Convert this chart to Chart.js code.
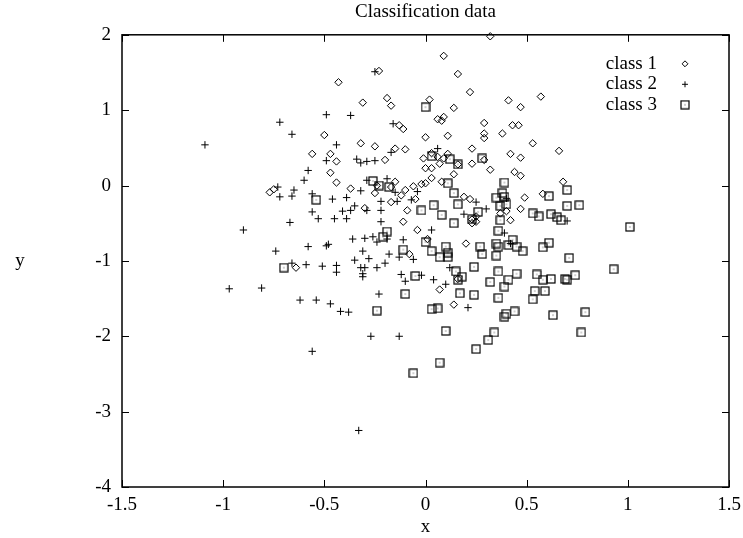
<!DOCTYPE html>
<html>
<head>
<meta charset="utf-8">
<script src="https://cdn.jsdelivr.net/npm/chart.js@4.4.1/dist/chart.umd.min.js"></script>
<style>
  html, body { margin: 0; padding: 0; background: #fff; }
  canvas { display: block; }
</style>
</head>
<body>
<canvas id="chart" width="743" height="538"></canvas>
<script>
// values, [x, y]
const class1 = [
  [-0.31,1.10],[-0.17,1.06],[-0.13,0.80],[-0.11,0.75],[0.00,0.64],[-0.50,0.67],[-0.32,0.56],[-0.25,0.52],
  [-0.15,0.49],[-0.10,0.48],[-0.56,0.42],[-0.47,0.42],[-0.44,0.32],[-0.20,0.34],[-0.01,0.36],[-0.47,0.17],
  [0.00,0.23],[-0.44,0.04],[-0.24,0.00],[-0.17,-0.02],[-0.15,0.05],[-0.10,-0.06],[-0.06,-0.01],[-0.02,0.02],
  [-0.37,-0.04],[-0.12,-0.13],[-0.25,-0.10],[-0.77,-0.09],[-0.75,-0.05],[-0.17,-0.22],[-0.05,-0.18],[-0.30,-0.30],
  [-0.09,-0.33],[-0.11,-0.48],[-0.04,-0.59],[0.01,-0.71],[-0.08,-0.91],[-0.64,-1.09],[-0.23,1.52],[-0.43,1.37],
  [-0.19,1.16],[0.32,1.98],[0.09,1.72],[0.16,1.48],[0.22,1.24],[0.02,1.14],[0.41,1.13],[0.47,1.04],
  [0.14,1.03],[0.06,0.88],[0.08,0.86],[0.09,0.91],[0.29,0.83],[0.43,0.80],[0.46,0.80],[0.29,0.69],
  [0.29,0.63],[0.38,0.69],[0.11,0.66],[0.23,0.49],[0.42,0.42],[0.47,0.37],[0.03,0.43],[0.06,0.38],
  [0.09,0.36],[0.11,0.42],[0.16,0.28],[0.23,0.29],[0.29,0.34],[0.32,0.21],[0.44,0.18],[0.47,0.13],
  [0.03,0.23],[0.07,0.29],[0.14,0.15],[0.03,0.10],[0.08,0.05],[0.57,1.18],[0.53,0.56],[0.66,0.46],
  [0.68,0.05],[0.58,-0.11],[0.19,-0.15],[0.22,-0.18],[0.25,-0.41],[0.23,-0.45],[0.23,-0.50],[0.25,-0.48],
  [0.49,-0.16],[0.37,-0.37],[0.40,-0.34],[0.47,-0.31],[0.42,-0.46],[0.20,-0.77],[0.16,-1.24],[0.07,-1.38],
  [0.14,-1.58],[0.00,0.03]
];
const class2 = [
  [-1.09,0.54],[-0.49,0.94],[-0.37,0.93],[-0.72,0.84],[-0.16,0.82],[-0.66,0.68],[-0.44,0.54],[-0.17,0.44],
  [-0.49,0.33],[-0.34,0.35],[-0.32,0.30],[-0.29,0.32],[-0.25,0.33],[-0.58,0.20],[-0.60,0.07],[-0.29,0.07],
  [-0.19,0.09],[-0.73,-0.02],[-0.32,-0.07],[-0.15,-0.09],[-0.65,-0.06],[-0.72,-0.15],[-0.66,-0.14],[-0.56,-0.11],
  [-0.46,-0.18],[-0.39,-0.16],[-0.14,-0.21],[-0.22,-0.21],[-0.07,-0.19],[-0.04,-0.08],[-0.35,-0.27],[-0.29,-0.33],
  [-0.22,-0.33],[-0.41,-0.34],[-0.37,-0.33],[-0.56,-0.35],[-0.53,-0.44],[-0.45,-0.44],[-0.39,-0.44],[-0.22,-0.48],
  [-0.67,-0.49],[-0.90,-0.59],[-0.19,-0.71],[-0.36,-0.71],[-0.30,-0.70],[-0.26,-0.68],[-0.24,-0.75],[-0.11,-0.72],
  [-0.58,-0.81],[-0.49,-0.80],[-0.48,-0.78],[-0.74,-0.87],[-0.31,-0.87],[-0.28,-0.97],[-0.35,-0.99],[-0.18,-0.91],
  [-0.13,-0.95],[-0.06,-0.98],[-0.66,-1.03],[-0.59,-1.05],[-0.51,-1.07],[-0.44,-1.06],[-0.44,-1.15],[-0.32,-1.09],
  [-0.30,-1.09],[-0.31,-1.17],[-0.31,-1.21],[-0.24,-1.09],[-0.20,-1.03],[-0.12,-1.18],[-0.02,-1.19],[-0.10,-1.27],
  [-0.81,-1.36],[-0.23,-1.44],[-0.62,-1.52],[-0.54,-1.52],[-0.47,-1.57],[-0.42,-1.67],[-0.38,-1.68],[-0.27,-2.00],
  [-0.13,-2.00],[-0.56,-2.20],[-0.97,-1.37],[-0.33,-3.25],[-0.25,1.51],[0.06,0.49],[0.70,-0.47],[0.25,-0.22],
  [0.19,-0.38],[0.30,-0.31],[0.40,-0.17],[0.39,-0.63],[0.42,-0.77],[0.12,-1.09],[0.10,-1.31],[0.21,-1.62],
  [0.04,-1.25],[0.03,-0.59]
];
const class3 = [
  [0.00,1.04],[-0.26,0.06],[-0.23,0.00],[-0.18,-0.02],[-0.54,-0.19],[-0.02,-0.33],[-0.19,-0.61],[-0.21,-0.68],
  [0.00,-0.75],[-0.11,-0.85],[-0.70,-1.09],[-0.05,-1.20],[-0.10,-1.44],[-0.24,-1.66],[0.31,-2.05],[0.25,-2.17],
  [0.07,-2.35],[-0.06,-2.49],[0.03,0.39],[0.12,0.35],[0.16,0.28],[0.28,0.36],[0.11,0.03],[0.39,0.04],
  [0.70,-0.06],[0.61,-0.14],[0.70,-0.27],[0.76,-0.26],[0.53,-0.37],[0.56,-0.41],[0.62,-0.38],[0.65,-0.42],
  [0.67,-0.46],[1.01,-0.55],[0.61,-0.76],[0.58,-0.82],[0.71,-0.96],[0.93,-1.11],[0.55,-1.18],[0.58,-1.25],
  [0.62,-1.24],[0.69,-1.24],[0.70,-1.25],[0.74,-1.19],[0.54,-1.40],[0.59,-1.40],[0.53,-1.51],[0.63,-1.72],
  [0.79,-1.68],[0.77,-1.95],[0.14,-0.10],[0.16,-0.25],[0.23,-0.45],[0.26,-0.35],[0.14,-0.50],[0.38,-0.10],
  [0.39,-0.15],[0.35,-0.16],[0.37,-0.27],[0.40,-0.25],[0.37,-0.46],[0.36,-0.60],[0.35,-0.77],[0.36,-0.81],
  [0.43,-0.72],[0.41,-0.79],[0.45,-0.81],[0.48,-0.87],[0.27,-0.81],[0.28,-0.91],[0.35,-0.93],[0.10,-0.81],
  [0.11,-0.89],[0.11,-0.95],[0.07,-0.95],[0.03,-0.87],[0.24,-1.08],[0.15,-1.14],[0.18,-1.21],[0.16,-1.25],
  [0.36,-1.14],[0.45,-1.17],[0.41,-1.25],[0.32,-1.28],[0.39,-1.34],[0.17,-1.43],[0.24,-1.45],[0.36,-1.49],
  [0.44,-1.67],[0.40,-1.70],[0.39,-1.74],[0.10,-1.93],[0.34,-1.95],[0.03,-1.64],[0.06,-1.63],[0.04,-0.26],
  [0.08,-0.39]
];
const classNames = ['class 1', 'class 2', 'class 3'];
const xTicks = [-1.5, -1, -0.5, 0, 0.5, 1, 1.5];
const xTickLabels = ['-1.5', '-1', '-0.5', '0', '0.5', '1', '1.5'];
const yTicks = [-4, -3, -2, -1, 0, 1, 2];
const yTickLabels = ['-4', '-3', '-2', '-1', '0', '1', '2'];
const titleText = 'Classification data';
const xLabel = 'x';
const yLabel = 'y';

const serif = "'Liberation Serif', 'DejaVu Serif', serif";
Chart.defaults.font.family = serif;
Chart.defaults.font.size = 19;
Chart.defaults.color = '#000';

function toPoints(arr) {
  return arr.map(p => ({ x: p[0], y: p[1] }));
}

// gnuplot box symbol: open square with a dot in the middle
function boxSymbol(side) {
  const c = document.createElement('canvas');
  c.width = side + 2;
  c.height = side + 2;
  const g = c.getContext('2d');
  g.strokeStyle = '#000';
  g.lineWidth = 1.2;
  g.strokeRect(1, 1, side, side);
  g.fillStyle = '#444';
  const m = Math.floor((side + 2) / 2);
  g.fillRect(m - 0.5, m - 0.5, 1, 1);
  return c;
}

function makeSet(label, data, style, radius) {
  return {
    label: label,
    data: toPoints(data),
    pointStyle: style,
    pointRadius: radius,
    pointHoverRadius: radius,
    pointBorderWidth: 1,
    pointBorderColor: '#000',
    pointBackgroundColor: 'rgba(0,0,0,0)',
    showLine: false,
    clip: false
  };
}

// gnuplot style frame, inward ticks, horizontal y label
const framePlugin = {
  id: 'frame',
  afterDraw(chart) {
    const ctx = chart.ctx;
    const a = chart.chartArea;
    const xs = chart.scales.x;
    const ys = chart.scales.y;
    ctx.save();
    ctx.strokeStyle = '#000';
    ctx.lineWidth = 1.5;
    ctx.strokeRect(a.left, a.top, a.right - a.left, a.bottom - a.top);
    ctx.lineWidth = 1;
    ctx.beginPath();
    xTicks.forEach(v => {
      const px = Math.round(xs.getPixelForValue(v)) + 0.5;
      ctx.moveTo(px, a.bottom); ctx.lineTo(px, a.bottom - 7);
      ctx.moveTo(px, a.top); ctx.lineTo(px, a.top + 7);
    });
    yTicks.forEach(v => {
      const py = Math.round(ys.getPixelForValue(v)) + 0.5;
      ctx.moveTo(a.left, py); ctx.lineTo(a.left + 7, py);
      ctx.moveTo(a.right, py); ctx.lineTo(a.right - 7, py);
    });
    ctx.stroke();

    ctx.fillStyle = '#000';
    ctx.font = '19px ' + serif;
    ctx.textAlign = 'center';
    ctx.textBaseline = 'middle';
    ctx.fillText(yLabel, 20, (a.top + a.bottom) / 2);
    ctx.restore();
  }
};

// key in the top right corner: text, then the symbol
const keyPlugin = {
  id: 'key',
  afterDraw(chart) {
    const ctx = chart.ctx;
    const a = chart.chartArea;
    ctx.save();
    chart.data.datasets.forEach((ds, i) => {
      const y = a.top + 29 + i * 20.5;
      ctx.fillStyle = '#000';
      ctx.font = '19px ' + serif;
      ctx.textAlign = 'right';
      ctx.textBaseline = 'middle';
      ctx.fillText(ds.label, a.right - 72, y);
      ctx.fillStyle = 'rgba(0,0,0,0)';
      ctx.strokeStyle = '#000';
      ctx.lineWidth = 1;
      Chart.helpers.drawPoint(ctx, {
        pointStyle: ds.pointStyle,
        radius: ds.pointRadius * 0.8,
        borderWidth: 1,
        rotation: 0
      }, a.right - 44, y);
    });
    ctx.restore();
  }
};

new Chart(document.getElementById('chart'), {
  type: 'scatter',
  data: {
    datasets: [
      makeSet(classNames[0], class1, 'rectRot', 3.7),
      makeSet(classNames[1], class2, 'cross', 3.7),
      makeSet(classNames[2], class3, boxSymbol(8), 5)
    ]
  },
  options: {
    responsive: false,
    animation: false,
    layout: { padding: { left: 0, right: 14, top: 0, bottom: 0 } },
    plugins: {
      legend: { display: false },
      tooltip: { enabled: false },
      title: {
        display: true,
        text: titleText,
        fullSize: false,
        color: '#000',
        font: { family: serif, size: 19, weight: 'normal' },
        padding: { top: 1, bottom: 11 }
      }
    },
    scales: {
      x: {
        type: 'linear',
        position: 'bottom',
        min: -1.5,
        max: 1.5,
        grid: { display: false, drawTicks: false },
        border: { display: false },
        afterBuildTicks: s => { s.ticks = xTicks.map(v => ({ value: v })); },
        afterFit: s => { s.height = 51; s.paddingLeft = 0; s.paddingRight = 0; },
        ticks: {
          padding: 7,
          maxRotation: 0,
          autoSkip: false,
          callback: (v, i) => xTickLabels[i]
        },
        title: { display: true, text: xLabel, padding: 0, font: { size: 19 } }
      },
      y: {
        type: 'linear',
        position: 'left',
        min: -4,
        max: 2,
        grid: { display: false, drawTicks: false },
        border: { display: false },
        afterBuildTicks: s => { s.ticks = yTicks.map(v => ({ value: v })); },
        afterFit: s => { s.width = 122; s.paddingTop = 0; s.paddingBottom = 0; },
        ticks: {
          padding: 11,
          autoSkip: false,
          callback: (v, i) => yTickLabels[i]
        }
      }
    }
  },
  plugins: [framePlugin, keyPlugin]
});
</script>
</body>
</html>
